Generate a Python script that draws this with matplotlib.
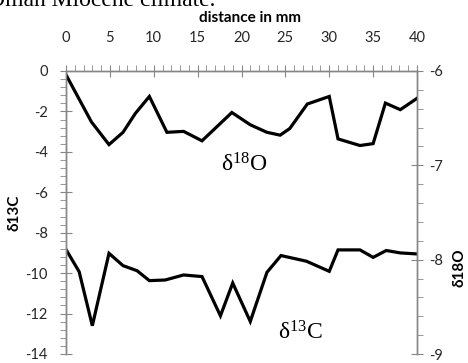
import matplotlib
matplotlib.use("Agg")
import matplotlib.pyplot as plt
from matplotlib.ticker import MultipleLocator

# distance along the sample (mm) and isotope values
dist_o = [0, 2.9, 4.9, 6.5, 7.9, 9.5, 11.5, 13.4, 15.5, 18.9, 21.0, 22.9,
          24.4, 25.5, 27.5, 30.0, 31.0, 33.5, 35.0, 36.4, 38.1, 40.0]
d18o = [-6.04, -6.54, -6.78, -6.65, -6.45, -6.27, -6.65, -6.64, -6.74, -6.44,
        -6.57, -6.65, -6.68, -6.61, -6.35, -6.27, -6.72, -6.79, -6.77, -6.34,
        -6.41, -6.29]

dist_c = [0, 1.5, 3.0, 4.9, 6.5, 8.1, 9.5, 11.3, 13.4, 15.5, 17.6, 19.0,
          21.0, 22.9, 24.5, 27.4, 30.0, 31.0, 33.5, 35.0, 36.5, 38.1, 40.0]
d13c = [-8.83, -9.93, -12.6, -9.02, -9.63, -9.88, -10.37, -10.34, -10.09,
        -10.17, -12.11, -10.49, -12.39, -9.96, -9.13, -9.41, -9.91, -8.85,
        -8.85, -9.22, -8.88, -9.00, -9.05]

W, H = 468, 363
axis_grey = "#868686"
label_col = "#262626"
tick_font = "Lato"

plt.rcParams["mathtext.fontset"] = "custom"
plt.rcParams["mathtext.rm"] = "Liberation Serif"
plt.rcParams["axes.unicode_minus"] = False

fig = plt.figure(figsize=(W / 100, H / 100), dpi=100)
# plot area: x from 66 to 417 px, y from 71 (top) to 354 px
ax = fig.add_axes([66 / W, 9 / H, (417 - 66) / W, (354 - 71) / H])
ax2 = ax.twinx()

ax.plot(dist_c, d13c, color="black", lw=2.3, solid_joinstyle="miter")
ax2.plot(dist_o, d18o, color="black", lw=2.3, solid_joinstyle="miter")

ax.set_xlim(0, 40)
ax.set_ylim(-14, 0)
ax2.set_ylim(-9, -6)

ax.xaxis.set_ticks_position("top")
ax.xaxis.set_label_position("top")
ax.xaxis.set_major_locator(MultipleLocator(5))
ax.xaxis.set_minor_locator(MultipleLocator(1))
ax.yaxis.set_major_locator(MultipleLocator(2))
ax.yaxis.set_minor_locator(MultipleLocator(0.4))
ax2.yaxis.set_major_locator(MultipleLocator(1))
ax2.yaxis.set_minor_locator(MultipleLocator(0.2))

for a in (ax, ax2):
    a.spines["bottom"].set_visible(False)
    for s in ("top", "left", "right"):
        a.spines[s].set_color(axis_grey)
        a.spines[s].set_linewidth(1.0)
    a.set_facecolor("none")

ax.tick_params(axis="x", which="major", direction="inout", length=8,
               color=axis_grey, labelsize=10.5, labelcolor=label_col, pad=15)
ax.tick_params(axis="x", which="minor", direction="out", length=4, color=axis_grey)
ax.tick_params(axis="y", which="major", direction="inout", length=8,
               color=axis_grey, labelsize=10.5, labelcolor=label_col, pad=9)
ax.tick_params(axis="y", which="minor", direction="out", length=4, color=axis_grey)
ax2.tick_params(axis="y", which="major", direction="inout", length=8,
                color=axis_grey, labelsize=10.5, labelcolor=label_col, pad=5)
ax2.tick_params(axis="y", which="minor", direction="out", length=4, color=axis_grey)

for lab in ax.get_xticklabels() + ax.get_yticklabels() + ax2.get_yticklabels():
    lab.set_fontfamily(tick_font)

# series labels
ax.text(17.66, -4.95, r"$\mathrm{δ^{18}O}$", fontsize=17, ha="left", va="baseline")
ax.text(24.2, -13.27, r"$\mathrm{δ^{13}C}$", fontsize=17, ha="left", va="baseline")

# axis titles
fig.text(250 / W, 1 - 18 / H, "distance in mm", fontsize=11, fontweight="bold",
         fontfamily=tick_font, ha="center", va="center", color="black")
fig.text(15 / W, 1 - 213 / H, "δ13C", fontsize=11, fontweight="bold",
         fontfamily=tick_font, rotation=90, ha="center", va="center")
fig.text(459 / W, 1 - 268 / H, "δ18O", fontsize=11, fontweight="bold",
         fontfamily=tick_font, rotation=90, ha="center", va="center")

# page text cut off at the top of the crop
fig.text(215 / W, 1 - 6 / H, "Oman Miocene climate.", fontsize=17,
         fontfamily="Liberation Serif", ha="right", va="baseline")

fig.savefig("out.png", dpi=100)
